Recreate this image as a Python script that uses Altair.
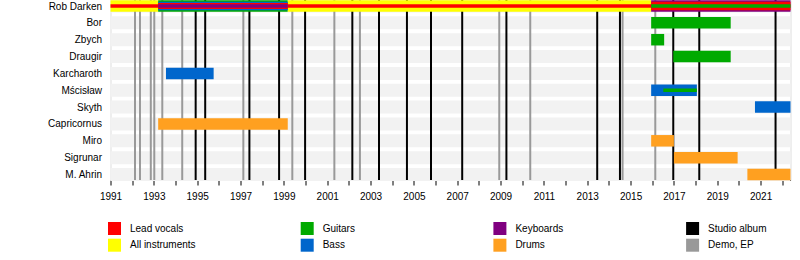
import json
import altair as alt
import pandas as pd

# ---------------- data ----------------
members = ["Rob Darken", "Bor", "Zbych", "Draugir", "Karcharoth", "Mścisław",
           "Skyth", "Capricornus", "Miro", "Sigrunar", "M. Ahrin"]

START = 1991.0
END = 2022.38

# member periods (nesting tier: 0 = outer bar, higher = narrower inner bar)
span_member = ["Rob Darken", "Rob Darken",
               "Rob Darken", "Rob Darken", "Rob Darken", "Rob Darken",
               "Rob Darken", "Rob Darken",
               "Rob Darken", "Rob Darken", "Rob Darken",
               "Bor", "Zbych", "Draugir", "Karcharoth",
               "Mścisław", "Mścisław", "Skyth",
               "Capricornus", "Miro", "Sigrunar", "M. Ahrin"]
span_role = ["All instruments", "Lead vocals",
             "Guitars", "Bass", "Lead vocals", "Keyboards",
             "All instruments", "Lead vocals",
             "Keyboards", "Lead vocals", "Guitars",
             "Guitars", "Guitars", "Guitars", "Bass",
             "Bass", "Guitars", "Bass",
             "Drums", "Drums", "Drums", "Drums"]
span_start = [1991.0, 1991.0,
              1993.2, 1993.2, 1993.2, 1993.2,
              1999.18, 1999.18,
              2015.95, 2015.95, 2015.95,
              2015.95, 2015.95, 2016.97, 1993.56,
              2015.95, 2016.51, 2020.74,
              1993.2, 2015.95, 2017.0, 2020.39]
span_end = [1993.2, 1993.2,
            1999.18, 1999.18, 1999.18, 1999.18,
            2015.95, 2015.95,
            END, END, END,
            2019.62, 2016.55, 2019.62, 1995.76,
            2018.06, 2018.06, END,
            1999.18, 2017.0, 2019.94, END]
span_tier = [0, 3,
             0, 1, 2, 3,
             0, 3,
             0, 1, 3,
             0, 0, 0, 0,
             0, 3, 0,
             0, 0, 0, 0]

studio_albums = [1994.93, 1995.37, 1997.41, 1998.78, 1999.98, 2002.16, 2003.39,
                 2004.68, 2005.79, 2007.23, 2009.27, 2013.46, 2014.51, 2016.97,
                 2018.17, 2021.69]
demos_eps = [1992.13, 1992.36, 1992.86, 1993.02, 1993.39, 1994.31, 1997.13,
             1999.39, 2001.33, 2002.51, 2008.94, 2010.37, 2014.63, 2016.14]

year_ticks = list(range(1991, 2023))

legend_items = ["Lead vocals", "Guitars", "Keyboards", "Studio album",
                "All instruments", "Bass", "Drums", "Demo, EP"]
legend_colors = ["#ff0000", "#00aa00", "#800080", "#000000",
                 "#ffff00", "#0066cc", "#ffa020", "#999999"]

# ---------------- style ----------------
ROW_PX = 16.85          # pixel distance between rows
TOP_PX = 6.0            # pixel centre of first row
PLOT_H = 180
PLOT_W = 680
TIER_PX = {0: 11.5, 1: 8.5, 2: 6.0, 3: 3.6}
STRIPE_PX = 13.0
FONT = "Liberation Sans"

ymin = -TOP_PX / ROW_PX
ymax = (PLOT_H - TOP_PX) / ROW_PX

spans = pd.DataFrame({"member": span_member, "role": span_role,
                      "start": span_start, "end": span_end, "tier": span_tier})
spans["row"] = spans["member"].map({m: i for i, m in enumerate(members)})
spans["half"] = spans["tier"].map(TIER_PX) / 2 / ROW_PX
spans["y0"] = spans["row"] - spans["half"]
spans["y1"] = spans["row"] + spans["half"]
spans = spans.sort_values("tier", kind="stable").reset_index(drop=True)
spans["ord"] = range(len(spans))

stripes = pd.DataFrame({"member": members, "row": range(len(members))})
stripes["start"] = START
stripes["end"] = END
stripes["y0"] = stripes["row"] - STRIPE_PX / 2 / ROW_PX
stripes["y1"] = stripes["row"] + STRIPE_PX / 2 / ROW_PX

lines = pd.DataFrame({
    "date": studio_albums + demos_eps,
    "kind": ["Studio album"] * len(studio_albums) + ["Demo, EP"] * len(demos_eps),
})

xscale = alt.Scale(domain=[START, END], nice=False, zero=False)
yscale = alt.Scale(domain=[ymin, ymax], nice=False, zero=False, reverse=True)

label_expr = json.dumps(members, ensure_ascii=False) + "[round(datum.value)]"

xaxis = alt.Axis(values=year_ticks, format="d",
                 labelExpr="datum.value % 2 == 1 ? datum.label : ''",
                 title=None, grid=False, tickSize=5, tickColor="black",
                 domainColor="black", labelPadding=6, labelOverlap=False,
                 labelFlush=False, labelFontSize=10, labelFont=FONT,
                 labelColor="black")
yaxis = alt.Axis(values=list(range(len(members))), labelExpr=label_expr,
                 title=None, grid=False, ticks=False, domain=False,
                 labelPadding=9, labelFontSize=10, labelFont=FONT,
                 labelColor="black", labelOverlap=False, labelFlush=False,
                 labelBound=False)

bg = alt.Chart(stripes).mark_rect(color="#f2f2f2").encode(
    x=alt.X("start:Q", scale=xscale, axis=xaxis),
    x2="end:Q",
    y=alt.Y("y0:Q", scale=yscale, axis=yaxis),
    y2="y1:Q",
)

vlines = alt.Chart(lines).mark_rule(strokeWidth=2).encode(
    x=alt.X("date:Q", scale=xscale, axis=xaxis),
    y=alt.value(0),
    y2=alt.value(PLOT_H),
    stroke=alt.Stroke("kind:N", scale=alt.Scale(domain=["Studio album", "Demo, EP"],
                                                range=["#000000", "#999999"]),
                      legend=None),
)

bars = alt.Chart(spans).mark_rect().encode(
    x=alt.X("start:Q", scale=xscale, axis=xaxis),
    x2="end:Q",
    y=alt.Y("y0:Q", scale=yscale, axis=yaxis),
    y2="y1:Q",
    order=alt.Order("ord:Q"),
    color=alt.Color("role:N",
                    scale=alt.Scale(domain=legend_items, range=legend_colors),
                    legend=alt.Legend(orient="none", legendX=-2.5, legendY=222,
                                      direction="horizontal", columns=4,
                                      symbolType="square", symbolSize=169,
                                      symbolStrokeWidth=0, symbolOpacity=1,
                                      labelFontSize=10, labelFont=FONT,
                                      labelColor="black", labelOffset=9,
                                      rowPadding=3.7, columnPadding=104.7,
                                      gridAlign="all", title=None, padding=0,
                                      labelLimit=300)),
)

chart = alt.layer(bg, vlines, bars).properties(
    width=PLOT_W, height=PLOT_H,
    autosize=alt.AutoSizeParams(type="none"),
    padding={"left": 110.5, "top": 0, "right": 9.5, "bottom": 80},
).configure_view(stroke=None).configure(background="white").configure_axis(
    labelOverlap=False)

chart.save("out.html", embed_options={"renderer": "svg", "actions": False})
